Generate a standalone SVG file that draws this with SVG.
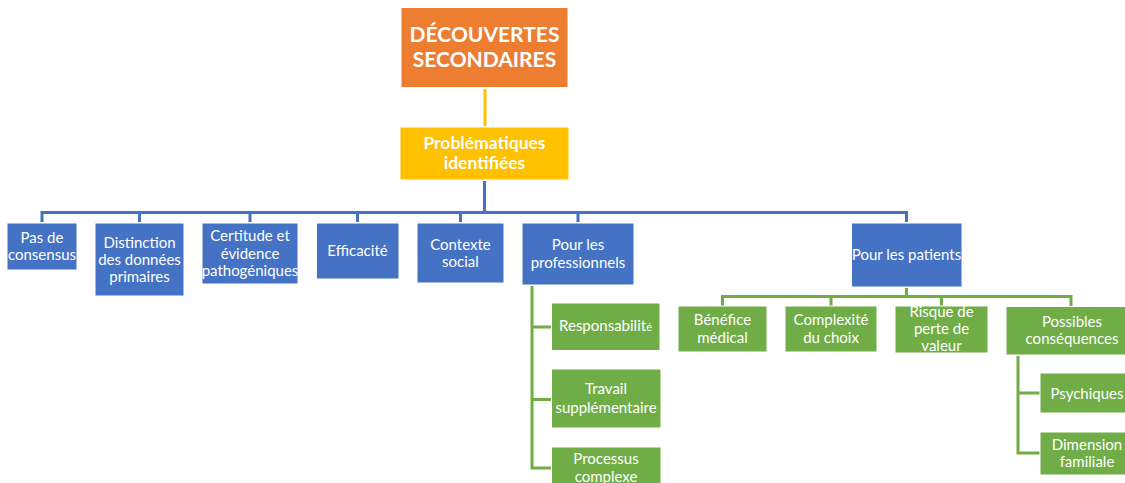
<svg xmlns="http://www.w3.org/2000/svg" width="1125" height="483" viewBox="0 0 1125 483">
<style>
.t{font-family:Lato,"Open Sans","Liberation Sans",sans-serif;fill:#fff;text-anchor:middle;font-size:15px}
.b{font-weight:bold}
.blue{fill:#4472C4;stroke:#fff;stroke-width:1}
.green{fill:#70AD47;stroke:#fff;stroke-width:1}
.cb{fill:none;stroke:#4472C4;stroke-width:3}
.cg{fill:none;stroke:#70AD47;stroke-width:3}
.cy{fill:none;stroke:#FFC000;stroke-width:3}
</style>
<rect width="1125" height="483" fill="#fff"/>
<g id="connectors">
<path class="cy" d="M485 89V126"/>
<path class="cb" d="M484.5 181V212.5H42V222"/>
<path class="cb" d="M484.5 212.5H139.5V222"/>
<path class="cb" d="M484.5 212.5H250V222"/>
<path class="cb" d="M484.5 212.5H357.5V222"/>
<path class="cb" d="M484.5 212.5H460.5V222"/>
<path class="cb" d="M484.5 212.5H578V222"/>
<path class="cb" d="M484.5 212.5H906.5V222"/>
<path class="cg" d="M532 286V468H551"/>
<path class="cg" d="M532 327H551"/>
<path class="cg" d="M532 399.5H551"/>
<path class="cg" d="M906.5 288V296.5H722.5V306"/>
<path class="cg" d="M906.5 296.5H831V306"/>
<path class="cg" d="M906.5 296.5H941.5V306"/>
<path class="cg" d="M906.5 296.5H1071V306"/>
<path class="cg" d="M1018 356V453H1040"/>
<path class="cg" d="M1018 393H1040"/>
</g>
<g id="n-decouvertes">
<rect x="401" y="7.5" width="167" height="80" fill="#ED7D31" stroke="#fff"/>
<text class="t b" x="484.5" y="42" style="font-size:21px">DÉCOUVERTES</text>
<text class="t b" x="484.5" y="67" style="font-size:21px">SECONDAIRES</text>
</g>
<g id="n-problematiques">
<rect x="400" y="127" width="169" height="53" fill="#FFC000" stroke="#fff"/>
<text class="t b" x="484.5" y="149" style="font-size:17.5px">Problématiques</text>
<text class="t b" x="484.5" y="169" style="font-size:17.5px">identifiées</text>
</g>
<g id="n-consensus">
<rect class="blue" x="7" y="223" width="70" height="47"/>
<text class="t" x="42" y="243">Pas de</text>
<text class="t" x="42" y="259.5">consensus</text>
</g>
<g id="n-distinction">
<rect class="blue" x="95" y="223" width="89" height="73"/>
<text class="t" x="139.5" y="247.5">Distinction</text>
<text class="t" x="139.5" y="265">des données</text>
<text class="t" x="139.5" y="282">primaires</text>
</g>
<g id="n-certitude">
<rect class="blue" x="202" y="223" width="96" height="61"/>
<text class="t" x="250" y="241">Certitude et</text>
<text class="t" x="250" y="259">évidence</text>
<text class="t" x="250" y="276">pathogéniques</text>
</g>
<g id="n-efficacite">
<rect class="blue" x="316.5" y="223" width="82.5" height="56"/>
<text class="t" x="357.5" y="256">Efficacité</text>
</g>
<g id="n-contexte">
<rect class="blue" x="417" y="223" width="87" height="60"/>
<text class="t" x="460.5" y="249.5">Contexte</text>
<text class="t" x="460.5" y="267">social</text>
</g>
<g id="n-professionnels">
<rect class="blue" x="522" y="223" width="112" height="62"/>
<text class="t" x="578" y="250">Pour les</text>
<text class="t" x="578" y="268">professionnels</text>
</g>
<g id="n-patients">
<rect class="blue" x="851.5" y="223" width="110.5" height="64"/>
<text class="t" x="906.5" y="260">Pour les patients</text>
</g>
<g id="n-responsabilite">
<rect class="green" x="551.5" y="303" width="108.5" height="47.5"/>
<text class="t" x="605.5" y="331">Responsabilit<tspan style="font-size:11px">é</tspan></text>
</g>
<g id="n-travail">
<rect class="green" x="551.5" y="369" width="109.5" height="59"/>
<text class="t" x="606" y="394">Travail</text>
<text class="t" x="606" y="412.5">supplémentaire</text>
</g>
<g id="n-processus">
<rect class="green" x="551.5" y="447" width="109.5" height="40"/>
<text class="t" x="606" y="463.5">Processus</text>
<text class="t" x="606" y="481.5">complexe</text>
</g>
<g id="n-benefice">
<rect class="green" x="678" y="306" width="89" height="46"/>
<text class="t" x="722.5" y="325">Bénéfice</text>
<text class="t" x="722.5" y="343">médical</text>
</g>
<g id="n-complexite">
<rect class="green" x="785" y="306" width="92" height="46"/>
<text class="t" x="831" y="325">Complexité</text>
<text class="t" x="831" y="343">du choix</text>
</g>
<g id="n-risque">
<rect class="green" x="895" y="306" width="93" height="47"/>
<text class="t" x="941.5" y="317">Risque de</text>
<text class="t" x="941.5" y="334">perte de</text>
<text class="t" x="941.5" y="351">valeur</text>
</g>
<g id="n-possibles">
<rect class="green" x="1006" y="306.5" width="132" height="48.5"/>
<text class="t" x="1072" y="327">Possibles</text>
<text class="t" x="1072" y="343.5">conséquences</text>
</g>
<g id="n-psychiques">
<rect class="green" x="1040" y="373" width="94" height="40"/>
<text class="t" x="1087" y="399">Psychiques</text>
</g>
<g id="n-dimension">
<rect class="green" x="1040" y="432" width="94" height="43"/>
<text class="t" x="1087" y="449.5">Dimension</text>
<text class="t" x="1087" y="467">familiale</text>
</g>
</svg>
